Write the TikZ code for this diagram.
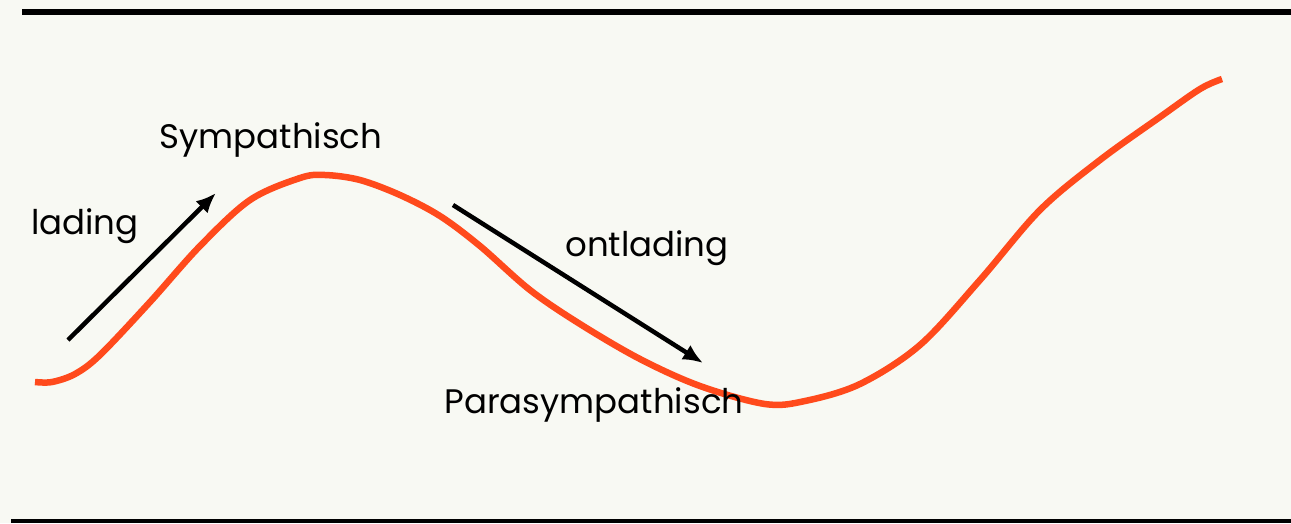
\documentclass[tikz,border=0pt]{standalone}
\usepackage{fontspec}
\setmainfont{Poppins}
\usetikzlibrary{arrows.meta}
\definecolor{bg}{HTML}{F8F9F3}
\definecolor{curve}{HTML}{FF4A1C}
\tikzset{
  lbl/.style={font=\fontsize{34}{40}\selectfont, text=black, inner sep=0pt},
  arr/.style={line width=4.5pt, -{Latex[length=20pt,width=17pt]}, black},
  wave/.style={line width=6.5pt, curve, line cap=butt}
}
\begin{document}
\begin{tikzpicture}[x=1pt,y=-1pt]
\fill[bg] (0,0) rectangle (1291,523);
\useasboundingbox (0,0) rectangle (1291,523);
\fill[black] (22,9) rectangle (1291,15);
\fill[black] (11,519) rectangle (1291,523);
% curve
\draw[wave] plot[smooth, tension=0.55] coordinates {
 (35,382) (52,382) (75,374) (100,355) (150,302) (200,246) (250,200) (300,178) (325,175)
 (360,180) (400,195) (440,216) (480,246) (530,290) (580,324) (640,359) (700,386)
 (765,404) (805,401) (860,384) (920,345) (980,280) (1040,210) (1100,160)
 (1160,117) (1200,89) (1222,79)};
% arrows
\coordinate (l1) at (68,340);
\coordinate (l2) at (216,193);
\coordinate (o1) at (453,205);
\coordinate (o2) at (703,363);
\draw[arr] (l1) -- (l2);
\draw[arr] (o1) -- (o2);
% labels
\node[lbl] (symp) at (271,140) {Sympathisch};
\node[lbl] (lad) at (85,226) {lading};
\node[lbl] (ont) at (647,248) {ontlading};
\node[lbl] (para) at (594,405) {Parasympathisch};
\end{tikzpicture}
\end{document}
